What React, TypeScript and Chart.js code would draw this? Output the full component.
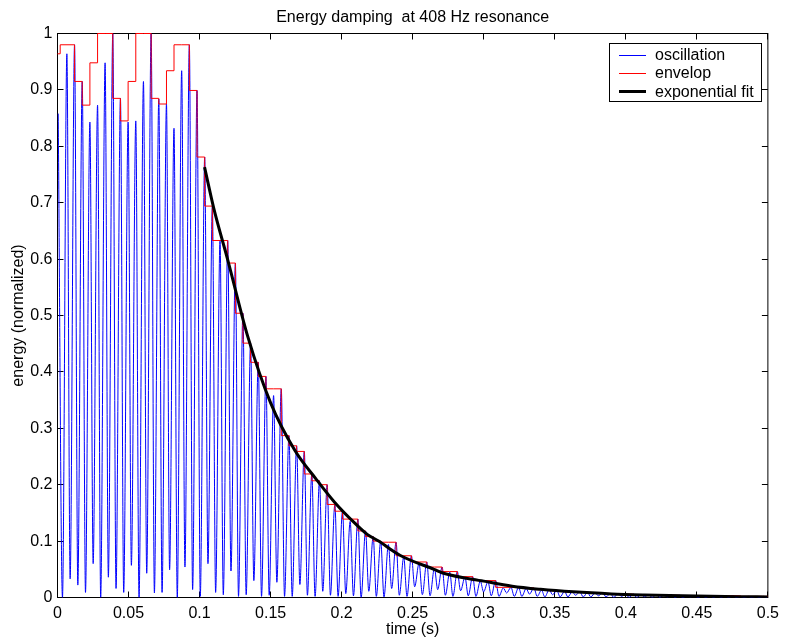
import React, { useEffect, useRef } from 'react';
import { Chart, registerables } from 'chart.js';

Chart.register(...registerables);

const titleText = 'Energy damping  at 408 Hz resonance';
const xLabel = 'time (s)';
const yLabel = 'energy (normalized)';
const seriesNames = ['oscillation', 'envelop', 'exponential fit'];
const seriesColors = ['#0000ff', '#ff0000', '#000000'];

const xTicks = [0, 0.05, 0.1, 0.15, 0.2, 0.25, 0.3, 0.35, 0.4, 0.45, 0.5];
const yTicks = [0, 0.1, 0.2, 0.3, 0.4, 0.5, 0.6, 0.7, 0.8, 0.9, 1];

// oscillation: first sample, then peaks and troughs
const startTime = 0.0005;
const startValue = 0.858;

const peakTimes = [
  0.0066, 0.0120, 0.0174, 0.0228, 0.0282, 0.0335, 0.0389, 0.0443, 0.0497, 0.0551,
  0.0605, 0.0659, 0.0713, 0.0767, 0.0820, 0.0874, 0.0928, 0.0982, 0.1036, 0.1090,
  0.1144, 0.1198, 0.1252, 0.1305, 0.1359, 0.1413, 0.1467, 0.1521, 0.1575, 0.1629,
  0.1683, 0.1737, 0.1790, 0.1844, 0.1898, 0.1952, 0.2006, 0.2060, 0.2114, 0.2168,
  0.2222, 0.2275, 0.2329, 0.2383, 0.2437, 0.2491, 0.2545, 0.2599, 0.2653, 0.2707,
  0.2761, 0.2814, 0.2868, 0.2922, 0.2976, 0.3030, 0.3084, 0.3138, 0.3192, 0.3246,
  0.3299, 0.3353, 0.3407, 0.3461, 0.3515, 0.3569, 0.3623, 0.3677, 0.3731, 0.3784,
  0.3838, 0.3892, 0.3946, 0.4000, 0.4054, 0.4108, 0.4162, 0.4216, 0.4269, 0.4323,
  0.4377, 0.4431, 0.4485, 0.4539, 0.4593, 0.4647, 0.4700, 0.4754, 0.4808, 0.4862,
  0.4916, 0.4970,
];

const peakValues = [
  0.964, 0.980, 0.915, 0.843, 0.873, 0.948, 1.000, 0.885, 0.843, 0.845,
  0.915, 1.000, 0.884, 0.875, 0.832, 0.934, 0.980, 0.899, 0.781, 0.694,
  0.633, 0.633, 0.593, 0.504, 0.451, 0.417, 0.392, 0.358, 0.370, 0.287,
  0.269, 0.259, 0.219, 0.207, 0.200, 0.165, 0.153, 0.135, 0.139, 0.118,
  0.108, 0.100, 0.094, 0.098, 0.072, 0.074, 0.061, 0.063, 0.052, 0.054,
  0.045, 0.046, 0.036, 0.037, 0.029, 0.028, 0.030, 0.017, 0.018, 0.018,
  0.016, 0.017, 0.013, 0.014, 0.012, 0.011, 0.010, 0.010, 0.009, 0.008,
  0.008, 0.007, 0.007, 0.006, 0.006, 0.005, 0.005, 0.005, 0.004, 0.004,
  0.004, 0.003, 0.003, 0.003, 0.003, 0.003, 0.003, 0.003, 0.002, 0.002,
  0.002, 0.002,
];

const troughTimes = [
  0.0035, 0.0089, 0.0143, 0.0197, 0.0251, 0.0304, 0.0358, 0.0412, 0.0466, 0.0520,
  0.0574, 0.0628, 0.0682, 0.0736, 0.0789, 0.0843, 0.0897, 0.0951, 0.1005, 0.1059,
  0.1113, 0.1167, 0.1221, 0.1274, 0.1328, 0.1382, 0.1436, 0.1490, 0.1544, 0.1598,
  0.1652, 0.1706, 0.1759, 0.1813, 0.1867, 0.1921, 0.1975, 0.2029, 0.2083, 0.2137,
  0.2191, 0.2244, 0.2298, 0.2352, 0.2406, 0.2460, 0.2514, 0.2568, 0.2622, 0.2676,
  0.2730, 0.2783, 0.2837, 0.2891, 0.2945, 0.2999, 0.3053, 0.3107, 0.3161, 0.3215,
  0.3268, 0.3322, 0.3376, 0.3430, 0.3484, 0.3538, 0.3592, 0.3646, 0.3700, 0.3753,
  0.3807, 0.3861, 0.3915, 0.3969, 0.4023, 0.4077, 0.4131, 0.4185, 0.4238, 0.4292,
  0.4346, 0.4400, 0.4454, 0.4508, 0.4562, 0.4616, 0.4670, 0.4723, 0.4777, 0.4831,
  0.4885, 0.4939, 0.4993,
];

const troughValues = [
  0.000, 0.033, 0.022, 0.009, 0.060, 0.000, 0.036, 0.016, 0.009, 0.057,
  0.000, 0.043, 0.008, 0.009, 0.049, 0.000, 0.054, 0.014, 0.002, 0.060,
  0.009, 0.005, 0.047, 0.002, 0.005, 0.030, 0.002, 0.004, 0.027, 0.002,
  0.002, 0.023, 0.004, 0.002, 0.011, 0.004, 0.002, 0.007, 0.003, 0.000,
  0.011, 0.002, 0.001, 0.016, 0.004, 0.002, 0.019, 0.005, 0.003, 0.014,
  0.004, 0.002, 0.012, 0.003, 0.002, 0.010, 0.003, 0.002, 0.008, 0.002,
  0.002, 0.006, 0.002, 0.001, 0.005, 0.001, 0.001, 0.004, 0.001, 0.001,
  0.003, 0.001, 0.000, 0.002, 0.000, 0.000, 0.001, 0.000, 0.000, 0.001,
  0.000, 0.000, 0.001, 0.000, 0.000, 0.000, 0.000, 0.000, 0.000, 0.000,
  0.000, 0.000, 0.000,
];

// envelope: step levels; the first two levels, then one level per peak from the 2nd peak on
const envelopeLeadTimes = [0, 0.0019];
const envelopeLeadValues = [0.964, 0.980];
const envelopeValues = [
  0.915, 0.873, 0.948, 1.000, 1.000, 0.885, 0.845, 0.915, 1.000, 1.000,
  0.885, 0.875, 0.934, 0.980, 0.980, 0.899, 0.781, 0.694, 0.633, 0.633,
  0.593, 0.504, 0.451, 0.417, 0.392, 0.370, 0.370, 0.287, 0.269, 0.259,
  0.219, 0.207, 0.200, 0.165, 0.153, 0.139, 0.139, 0.118, 0.108, 0.100,
  0.098, 0.098, 0.074, 0.074, 0.063, 0.063, 0.054, 0.054, 0.046, 0.046,
  0.037, 0.037, 0.030, 0.030, 0.030, 0.018, 0.018, 0.018, 0.017, 0.017,
  0.014, 0.014, 0.012, 0.011, 0.010, 0.010, 0.009, 0.008, 0.008, 0.007,
  0.007, 0.006, 0.006, 0.005, 0.005, 0.005, 0.004, 0.004, 0.004, 0.003,
  0.003, 0.003, 0.003, 0.003, 0.003, 0.003, 0.003, 0.002, 0.002, 0.002,
  0.002,
];
const envelopeEndTime = 0.5;

// exponential fit curve
const fitTimes = [
  0.1035, 0.110, 0.120, 0.134, 0.150, 0.167, 0.182, 0.195, 0.210, 0.218,
  0.226, 0.241, 0.265, 0.273, 0.300, 0.320, 0.340, 0.363, 0.390, 0.413,
  0.440, 0.460, 0.480, 0.500,
];
const fitValues = [
  0.763, 0.690, 0.597, 0.462, 0.345, 0.261, 0.210, 0.169, 0.130, 0.112,
  0.100, 0.075, 0.050, 0.042, 0.029, 0.020, 0.0145, 0.010, 0.0064, 0.0045,
  0.0029, 0.0021, 0.0015, 0.0011,
];

const FONT = "'Liberation Sans', Arial, Helvetica, sans-serif";

function buildOscillation() {
  const pts: { x: number; y: number }[] = [{ x: startTime, y: startValue }];
  troughTimes.forEach((t, i) => {
    pts.push({ x: t, y: troughValues[i] });
    if (i < peakTimes.length) pts.push({ x: peakTimes[i], y: peakValues[i] });
  });
  pts.sort((a, b) => a.x - b.x);
  return pts;
}

function buildEnvelope() {
  const pts: { x: number; y: number }[] = envelopeLeadTimes.map((t, i) => ({ x: t, y: envelopeLeadValues[i] }));
  envelopeValues.forEach((v, i) => pts.push({ x: peakTimes[i + 1], y: v }));
  pts.push({ x: envelopeEndTime, y: envelopeValues[envelopeValues.length - 1] });
  return pts;
}

function buildFit() {
  return fitTimes.map((t, i) => ({ x: t, y: fitValues[i] }));
}

const framePlugin = {
  id: 'matlabFrame',
  beforeDatasetsDraw(chart: any) {
    const { ctx, chartArea: a, scales } = chart;
    ctx.save();
    ctx.strokeStyle = '#000';
    ctx.lineWidth = 1;
    ctx.strokeRect(a.left, a.top, a.right - a.left, a.bottom - a.top);
    ctx.beginPath();
    const tl = 6;
    xTicks.forEach((v) => {
      const px = Math.round(scales.x.getPixelForValue(v) - 0.5) + 0.5;
      ctx.moveTo(px, a.bottom);
      ctx.lineTo(px, a.bottom - tl);
      ctx.moveTo(px, a.top);
      ctx.lineTo(px, a.top + tl);
    });
    yTicks.forEach((v) => {
      const py = Math.round(scales.y.getPixelForValue(v) - 0.5) + 0.5;
      ctx.moveTo(a.left, py);
      ctx.lineTo(a.left + tl, py);
      ctx.moveTo(a.right, py);
      ctx.lineTo(a.right - tl, py);
    });
    ctx.stroke();
    ctx.restore();
  },
};

const legendPlugin = {
  id: 'matlabLegend',
  afterDraw(chart: any) {
    const { ctx, chartArea: a } = chart;
    const w = 152;
    const h = 58;
    const x0 = Math.round(a.right - 7 - w) + 0.5;
    const y0 = Math.round(a.top + 9) + 0.5;
    ctx.save();
    ctx.fillStyle = '#ffffff';
    ctx.fillRect(x0, y0, w, h);
    ctx.strokeStyle = '#000000';
    ctx.lineWidth = 1;
    ctx.strokeRect(x0, y0, w, h);
    const rowYs = [y0 + 11.5, y0 + 29.8, y0 + 48.2];
    const widths = [1, 1, 3];
    ctx.font = `16px ${FONT}`;
    ctx.textBaseline = 'middle';
    ctx.textAlign = 'left';
    seriesNames.forEach((name, i) => {
      const lw = widths[i];
      const top = Math.round(rowYs[i] - lw / 2);
      ctx.fillStyle = seriesColors[i];
      ctx.fillRect(Math.round(x0 + 9), top, 27, lw);
      ctx.fillStyle = '#000000';
      ctx.fillText(name, x0 + 45.5, rowYs[i] + 0.5);
    });
    ctx.restore();
  },
};

export default function App() {
  const ref = useRef<HTMLCanvasElement | null>(null);

  useEffect(() => {
    document.body.style.margin = '0';
    const canvas = ref.current;
    if (!canvas) return;
    const chart = new Chart(canvas, {
      type: 'line',
      data: {
        datasets: [
          {
            label: seriesNames[0],
            data: buildOscillation(),
            borderColor: seriesColors[0],
            borderWidth: 1,
            pointRadius: 0,
            cubicInterpolationMode: 'monotone',
            fill: false,
            order: 3,
          },
          {
            label: seriesNames[1],
            data: buildEnvelope(),
            borderColor: seriesColors[1],
            borderWidth: 1,
            pointRadius: 0,
            stepped: 'before',
            fill: false,
            order: 2,
            clip: 2,
          },
          {
            label: seriesNames[2],
            data: buildFit(),
            borderColor: seriesColors[2],
            borderWidth: 3,
            pointRadius: 0,
            cubicInterpolationMode: 'monotone',
            fill: false,
            order: 1,
          },
        ],
      } as any,
      options: {
        animation: false,
        responsive: false,
        maintainAspectRatio: false,
        devicePixelRatio: 1,
        events: [],
        font: { family: FONT, size: 16 },
        layout: { padding: { left: 0, right: 14.5, top: 0, bottom: 0 } },
        plugins: {
          legend: { display: false },
          tooltip: { enabled: false },
          title: {
            display: true,
            text: titleText,
            fullSize: false,
            color: '#000',
            font: { family: FONT, size: 16, weight: 'normal' },
            padding: { top: 8, bottom: 6.3 },
          },
        },
        scales: {
          x: {
            type: 'linear',
            min: 0,
            max: 0.5,
            afterBuildTicks: (s: any) => {
              s.ticks = xTicks.map((v) => ({ value: v }));
            },
            afterFit: (s: any) => {
              s.height = 45.5;
            },
            ticks: {
              autoSkip: false,
              maxRotation: 0,
              padding: 6,
              color: '#000',
              font: { family: FONT, size: 16 },
              callback: (v: any) => String(v),
            },
            grid: { display: false, drawTicks: false, tickLength: 0 },
            border: { display: false },
            title: {
              display: true,
              text: xLabel,
              color: '#000',
              font: { family: FONT, size: 16 },
              padding: { top: 0, bottom: 3.4 },
            },
          },
          y: {
            type: 'linear',
            min: 0,
            max: 1,
            afterBuildTicks: (s: any) => {
              s.ticks = yTicks.map((v) => ({ value: v }));
            },
            afterFit: (s: any) => {
              s.width = 57.5;
            },
            ticks: {
              autoSkip: false,
              padding: 5,
              color: '#000',
              font: { family: FONT, size: 16 },
              callback: (v: any) => String(v),
            },
            grid: { display: false, drawTicks: false, tickLength: 0 },
            border: { display: false },
            title: {
              display: true,
              text: yLabel,
              color: '#000',
              font: { family: FONT, size: 16 },
              padding: { top: 9.4, bottom: 0 },
            },
          },
        },
      } as any,
      plugins: [framePlugin, legendPlugin],
    });
    return () => chart.destroy();
  }, []);

  return (
    <div style={{ width: 785, height: 643 }}>
      <canvas ref={ref} width={785} height={643} style={{ display: 'block' }} />
    </div>
  );
}
